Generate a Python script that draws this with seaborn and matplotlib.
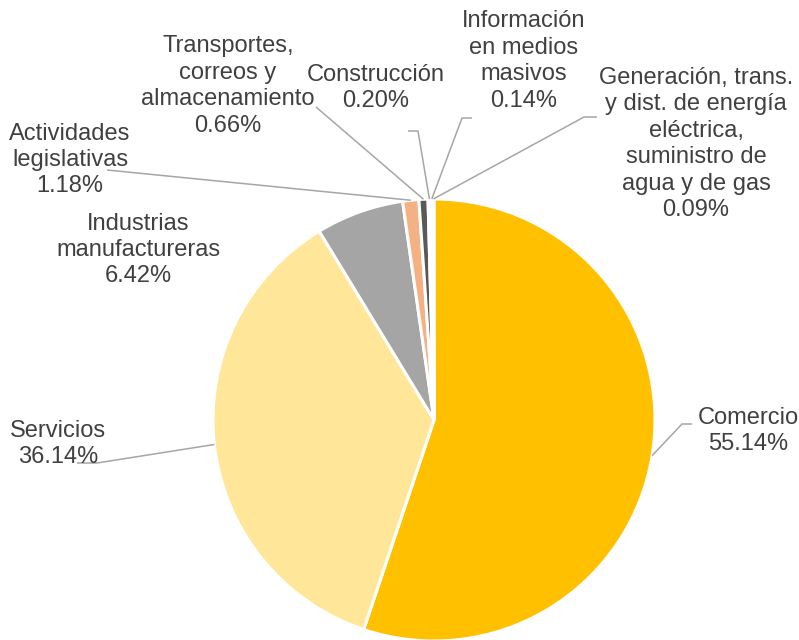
import numpy as np
import seaborn as sns
import matplotlib.pyplot as plt

# sector shares (%)
sectores = ['Comercio', 'Servicios', 'Industrias manufactureras', 'Actividades legislativas',
            'Transportes, correos y almacenamiento', 'Construcción',
            'Información en medios masivos',
            'Generación, trans. y dist. de energía eléctrica, suministro de agua y de gas']
valores = [55.14, 36.14, 6.42, 1.18, 0.66, 0.20, 0.14, 0.09]
etiquetas = ['Comercio', 'Servicios', 'Industrias\nmanufactureras', 'Actividades\nlegislativas',
             'Transportes,\ncorreos y\nalmacenamiento', 'Construcción',
             'Información\nen medios\nmasivos',
             'Generación, trans.\ny dist. de energía\neléctrica,\nsuministro de\nagua y de gas']
colores = ['#FFC000', '#FFE699', '#A5A5A5', '#F4B183', '#595959', '#FFF2CC', '#F2F2F2', '#FBE5D6']

sns.set_theme(style='white')
plt.rcParams['font.family'] = ['Liberation Sans', 'DejaVu Sans']

W, H = 799, 640
fig = plt.figure(figsize=(W / 100, H / 100), dpi=100)
ax = fig.add_axes([0, 0, 1, 1])
ax.set_xlim(0, W)
ax.set_ylim(0, H)
ax.axis('off')


def py(y):
    # image row -> axes y
    return H - y


cx, cy, r = 434, py(420), 221
wedges, _ = ax.pie(valores, colors=colores, startangle=90, counterclock=False,
                   center=(cx, cy), radius=r,
                   wedgeprops=dict(edgecolor='white', linewidth=2.2))
ax.set_xlim(0, W)
ax.set_ylim(0, H)
ax.set_aspect('equal')

# label layout: text centre, leader elbow, leader end (image pixels)
layout = [
    ((748, 431), (682, 424), (692, 424)),
    ((58, 444), (97, 463), (77, 463)),
    ((138, 250), None, None),
    ((70, 160), (107, 170), (107, 170)),
    ((228, 86), (316, 107), (316, 107)),
    ((376, 88), (418, 131), (408, 131)),
    ((524, 61), (462, 118), (472, 118)),
    ((696, 144), (584, 117), (597, 117)),
]

for w, lab, v, (txt, elbow, end) in zip(wedges, etiquetas, valores, layout):
    ax.text(txt[0], py(txt[1]), f'{lab}\n{v:.2f}%', ha='center', va='center',
            fontsize=17, color='#404040', linespacing=1.26)
    if elbow is None:
        continue
    ang = np.deg2rad((w.theta1 + w.theta2) / 2)
    x0, y0 = cx + r * np.cos(ang), cy + r * np.sin(ang)
    ax.plot([x0, elbow[0], end[0]], [y0, py(elbow[1]), py(end[1])],
            color='#A6A6A6', lw=1.1, solid_capstyle='butt')

fig.savefig('out.png', dpi=100)
